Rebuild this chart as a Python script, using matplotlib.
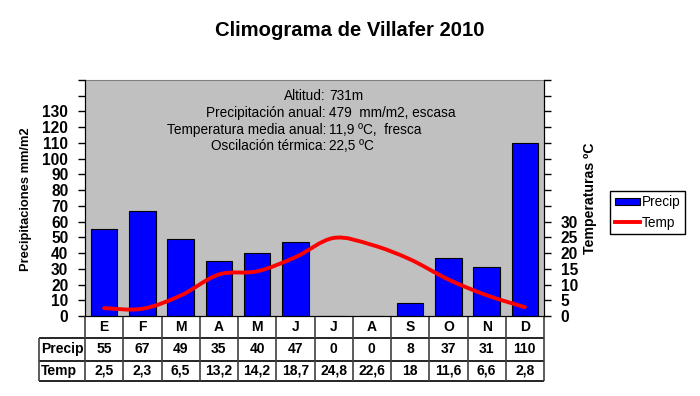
import matplotlib.pyplot as plt
from matplotlib.path import Path
from matplotlib.patches import PathPatch, Patch
from matplotlib.lines import Line2D

plt.rcParams['font.family'] = ['Liberation Sans', 'DejaVu Sans']

months = ['E', 'F', 'M', 'A', 'M', 'J', 'J', 'A', 'S', 'O', 'N', 'D']
precip = [55, 67, 49, 35, 40, 47, 0, 0, 8, 37, 31, 110]
temp = [2.5, 2.3, 6.5, 13.2, 14.2, 18.7, 24.8, 22.6, 18, 11.6, 6.6, 2.8]

info_labels = ['Altitud:', 'Precipitación anual:', 'Temperatura media anual:', 'Oscilación térmica:']
info_values = ['731m', '479  mm/m2, escasa', '11,9 ºC,  fresca', '22,5 ºC']

W, H = 700, 396
fig = plt.figure(figsize=(7, 3.96), dpi=100)
ax = fig.add_axes([85 / W, 1 - 316 / H, 459 / W, 236 / H])
ax.set_facecolor('#c0c0c0')

x = list(range(len(months)))
ax.bar(x, precip, width=0.69, color='#0000ff', edgecolor='black', linewidth=0.8, zorder=2)
ax.set_xlim(-0.5, 11.5)
ax.set_ylim(0, 150)
ax.set_yticks(range(0, 151, 10))
ax.set_yticklabels([str(v) if v <= 130 else '' for v in range(0, 151, 10)])
ax.set_xticks([])
ax.tick_params(axis='y', direction='out', length=5, width=1, pad=7, labelsize=11.2)
for lab in ax.get_yticklabels():
    lab.set_fontweight('bold')
ax.spines['top'].set_color('#808080')
for s in ['left', 'bottom', 'right']:
    ax.spines[s].set_color('black')

ax2 = ax.twinx()
ax2.set_ylim(0, 75)
ax2.set_yticks(range(0, 76, 5))
ax2.set_yticklabels([str(v) if v <= 30 else '' for v in range(0, 76, 5)])
ax2.tick_params(axis='y', direction='out', length=5, width=1, pad=7, labelsize=11.2)
for lab in ax2.get_yticklabels():
    lab.set_fontweight('bold')
ax2.spines['top'].set_visible(False)

# smoothed temperature line (Catmull-Rom through the monthly values)
pts = list(zip(x, temp))
verts = [pts[0]]
codes = [Path.MOVETO]
for i in range(len(pts) - 1):
    p0 = pts[max(i - 1, 0)]
    p1 = pts[i]
    p2 = pts[i + 1]
    p3 = pts[min(i + 2, len(pts) - 1)]
    c1 = (p1[0] + (p2[0] - p0[0]) / 6, p1[1] + (p2[1] - p0[1]) / 6)
    c2 = (p2[0] - (p3[0] - p1[0]) / 6, p2[1] - (p3[1] - p1[1]) / 6)
    verts += [c1, c2, p2]
    codes += [Path.CURVE4] * 3
ax2.add_patch(PathPatch(Path(verts, codes), fill=False, edgecolor='#ff0000',
                        linewidth=2.8, capstyle='round', zorder=3))

# info text, aligned on the colon
ys = [95.7, 113, 130, 145.7]
for lab, val, yp in zip(info_labels, info_values, ys):
    fy = 1 - (yp - 80) / 236
    ax.text((326 - 85) / 459, fy, lab, transform=ax.transAxes, ha='right',
            va='center', fontsize=9.8)
    ax.text((329 - 85) / 459, fy, val, transform=ax.transAxes, ha='left',
            va='center', fontsize=9.8)

# data table under the chart
tr = ax.get_xaxis_transform()
r1, r2, r3 = -22 / 236, -44.5 / 236, -64.7 / 236
xl = -0.5 - 46 / 38.25
line_kw = dict(transform=tr, clip_on=False, solid_capstyle='butt')
for yy in (r1, r2, r3):
    ax.plot([xl, 11.5], [yy, yy], color='black', lw=1.2, **line_kw)
for i in range(13):
    ax.plot([i - 0.5, i - 0.5], [0, r3], color='#404040', lw=1.2, **line_kw)
ax.plot([xl, xl], [r1, r3], color='#404040', lw=1.2, **line_kw)
tkw = dict(transform=tr, va='center', fontsize=10, fontweight='bold')
for i, m in enumerate(months):
    ax.text(i, r1 / 2, m, ha='center', **tkw)
    ax.text(i, (r1 + r2) / 2, str(precip[i]), ha='center', **tkw)
    ax.text(i, (r2 + r3) / 2, f'{temp[i]:g}'.replace('.', ','), ha='center', **tkw)
ax.text(xl + 0.05, (r1 + r2) / 2, 'Precip', ha='left', **tkw)
ax.text(xl + 0.05, (r2 + r3) / 2, 'Temp', ha='left', **tkw)

fig.text(350 / W, 1 - 31 / H, 'Climograma de Villafer 2010', ha='center', va='center',
         fontsize=14.6, fontweight='bold')
fig.text(25.7 / W, 1 - 199 / H, 'Precipitaciones mm/m2', rotation=90, ha='center',
         va='center', fontsize=9.3, fontweight='bold')
fig.text(590 / W, 1 - 198 / H, 'Temperaturas ºC', rotation=90, ha='center',
         va='center', fontsize=10.2, fontweight='bold')

handles = [Patch(facecolor='#0000ff', edgecolor='black', linewidth=0.8),
           Line2D([], [], color='#ff0000', linewidth=2.8)]
leg = fig.legend(handles, ['Precip', 'Temp'], loc='center',
                 bbox_to_anchor=(647.5 / W, 1 - 212.5 / H), fontsize=9.8,
                 fancybox=False, edgecolor='black', framealpha=1,
                 handlelength=1.9, handleheight=0.45, handletextpad=0.1,
                 borderpad=0.35, labelspacing=0.45, borderaxespad=0)
leg.get_frame().set_linewidth(1)

fig.savefig('out.png', dpi=100)
